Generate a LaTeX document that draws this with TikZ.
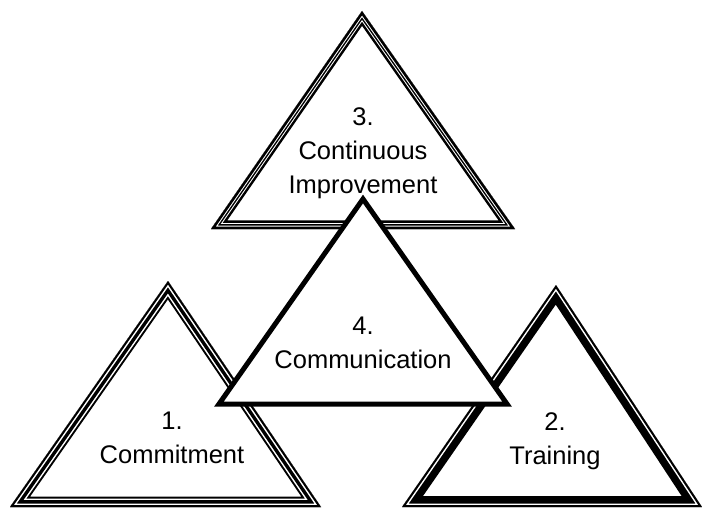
\documentclass[tikz,border=0pt]{standalone}
\usepackage{fontspec}
\setmainfont{Liberation Sans}
\usepackage{tikz}
\usetikzlibrary{positioning,calc}

% triangle with a compound outline, drawn inside its own edge
\newcommand{\bandtri}[4]{%
  \fill[white] #1 -- #2 -- #3 -- cycle;
  \begin{scope}
    \clip #1 -- #2 -- #3 -- cycle;
    \foreach \w/\c in {#4}
      \draw[\c, line width=\w pt, line join=miter] #1 -- #2 -- #3 -- cycle;
  \end{scope}
}

\tikzset{
  label/.style={align=center, inner sep=0pt, anchor=north,
    font=\fontsize{25.5}{34}\selectfont},
  plain/.style={draw=black, fill=white, line width=5pt, line join=miter}
}

\begin{document}
\begin{tikzpicture}[x=1pt, y=-1pt]
    \useasboundingbox (0,0) rectangle (702,508);

    % 3. Continuous Improvement
    \bandtri{(362,11)}{(211,229)}{(515,229)}{17/black,12/white,10/black,7/white,5/black}
    \node[label] (improve) at (363,107) {3.\\Continuous\\Improvement};

    % 1. Commitment
    \bandtri{(168,281)}{(10,507)}{(321,507)}{21/black,17/white,14/black,7/white,4/black}
    \node[label] (commit) at (172,412) {1.\\Commitment};

    % 2. Training
    \bandtri{(556,285)}{(402,507)}{(702,507)}{22/black,7/white,4/black}
    \node[label] (train) at (555,412) {2.\\Training};

    % 4. Communication (on top)
    \draw[plain] (363,199) -- (219,404) -- (507,404) -- cycle;
    \node[label] (comm) at (363,317) {4.\\Communication};
\end{tikzpicture}
\end{document}
